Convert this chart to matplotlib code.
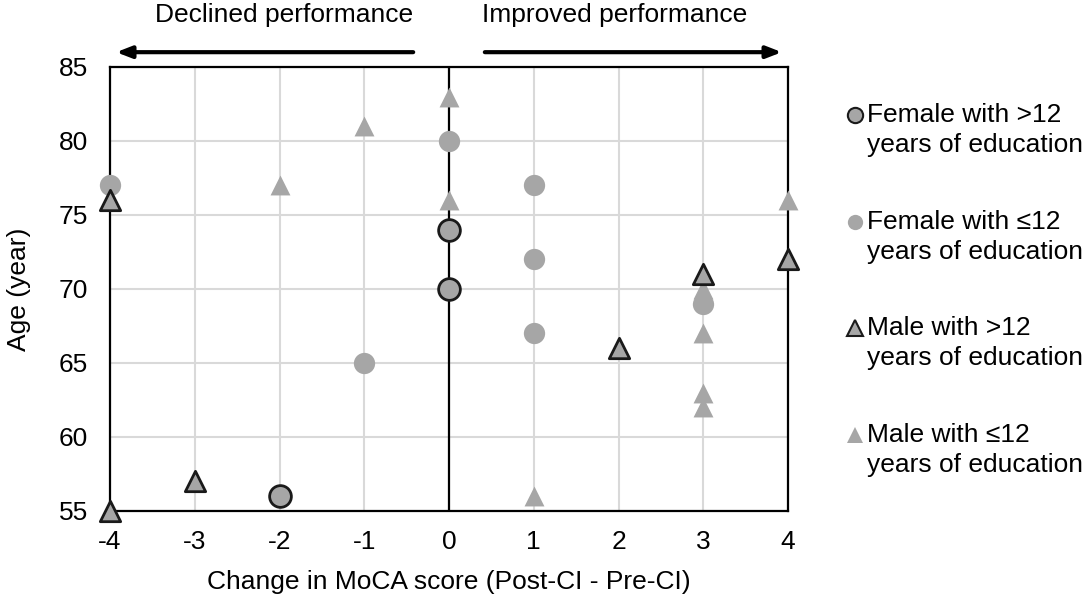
import matplotlib.pyplot as plt
from matplotlib.lines import Line2D

plt.rcParams['font.family'] = ['Liberation Sans', 'DejaVu Sans']
plt.rcParams['axes.unicode_minus'] = False

# MoCA change (x) and age (y) per group
female_hi_x = [0, 0, -2]
female_hi_y = [74, 70, 56]
female_lo_x = [-4, 0, 1, 1, 1, -1, 3]
female_lo_y = [77, 80, 77, 72, 67, 65, 69]
male_hi_x = [-4, -3, -4, 2, 3, 4]
male_hi_y = [76, 57, 55, 66, 71, 72]
male_lo_x = [0, -1, -2, 0, 1, 3, 3, 3, 3, 4]
male_lo_y = [83, 81, 77, 76, 56, 70, 67, 63, 62, 76]

legend_labels = [('Female with >12', 'years of education'),
                 ('Female with \u226412', 'years of education'),
                 ('Male with >12', 'years of education'),
                 ('Male with \u226412', 'years of education')]

grey = '#a6a6a6'
edge = '#1a1a1a'
fs = 19

fig = plt.figure(figsize=(10.83, 5.98), dpi=100)
ax = fig.add_axes([0.1016, 0.1455, 0.626, 0.7425])

ax.scatter(female_lo_x, female_lo_y, s=235, marker='o', color=grey, lw=0, zorder=3, clip_on=False)
ax.scatter(male_lo_x, male_lo_y, s=205, marker='^', color=grey, lw=0, zorder=3, clip_on=False)
ax.scatter(female_hi_x, female_hi_y, s=245, marker='o', facecolor=grey, edgecolor=edge, lw=2, zorder=4, clip_on=False)
ax.scatter(male_hi_x, male_hi_y, s=215, marker='^', facecolor=grey, edgecolor=edge, lw=2, zorder=4, clip_on=False)

ax.set_xlim(-4, 4)
ax.set_ylim(55, 85)
ax.set_xticks(range(-4, 5))
ax.set_yticks(range(55, 90, 5))
ax.grid(True, color='#d9d9d9', lw=1.5, zorder=0)
ax.set_axisbelow(True)
ax.axvline(0, color='black', lw=1.6, zorder=2)
for sp in ax.spines.values():
    sp.set_color('black')
    sp.set_linewidth(1.6)
ax.tick_params(length=0, labelsize=fs)
ax.tick_params(axis='x', pad=14)
ax.tick_params(axis='y', pad=16)
ax.set_xlabel('Change in MoCA score (Post-CI - Pre-CI)', fontsize=fs, labelpad=11)
ax.set_ylabel('Age (year)', fontsize=fs, labelpad=20)

# direction arrows above the plot
arrow = dict(arrowstyle='-|>,head_length=0.9,head_width=0.35', color='black', lw=3)
ax.annotate('', xy=(-3.96, 86.0), xytext=(-0.39, 86.0), xycoords='data',
            arrowprops=arrow, annotation_clip=False)
ax.annotate('', xy=(3.96, 86.0), xytext=(0.39, 86.0), xycoords='data',
            arrowprops=arrow, annotation_clip=False)
ax.text(-1.95, 88.5, 'Declined performance', ha='center', va='center', fontsize=fs)
ax.text(1.95, 88.5, 'Improved performance', ha='center', va='center', fontsize=fs)

# legend drawn by hand so the marker sits on the first line
handles = [
    dict(marker='o', mfc=grey, mec=edge, mew=1.5, ms=11),
    dict(marker='o', mfc=grey, mec=grey, mew=0, ms=11),
    dict(marker='^', mfc=grey, mec=edge, mew=1.5, ms=11),
    dict(marker='^', mfc=grey, mec=grey, mew=0, ms=11),
]
ys = [0.8077, 0.6288, 0.4515, 0.2726]
for y, h, lab in zip(ys, handles, legend_labels):
    fig.add_artist(Line2D([0.7895], [y], transform=fig.transFigure, **h))
    fig.text(0.8006, y, lab[0], ha='left', va='center', fontsize=fs)
    fig.text(0.8006, y - 0.05, lab[1], ha='left', va='center', fontsize=fs)

fig.savefig('out.png', dpi=100)
